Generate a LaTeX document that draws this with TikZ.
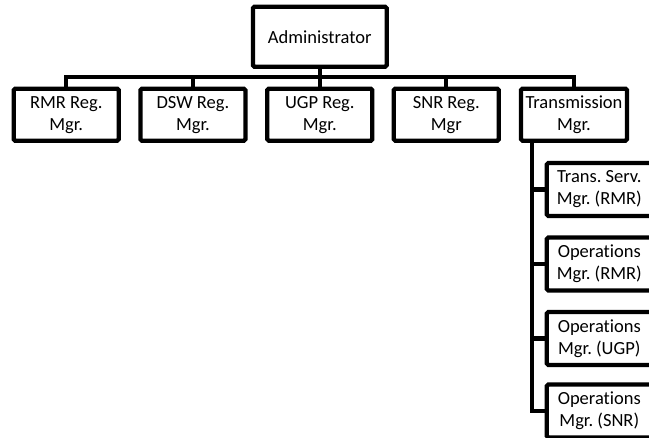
\documentclass[tikz,border=0pt]{standalone}
\usepackage{fontspec}
\setmainfont[Ligatures=CommonOff]{Carlito}
\begin{document}
\frenchspacing
\begin{tikzpicture}[x=1pt,y=-1pt,
  box/.style={draw=black, fill=white, line width=4.3pt, rounded corners=1.5pt,
    align=center, inner sep=0pt, font=\fontsize{18.5}{22}\selectfont\frenchspacing},
  rowbox/.style={box, minimum width=105pt, minimum height=52pt},
  subbox/.style={box, minimum width=105pt, minimum height=53pt},
  conn/.style={draw=black, line width=4.3pt, line join=miter}]
\useasboundingbox (0,0) rectangle (649,438);
\clip (0,0) rectangle (649,438);
\node[box, minimum width=133.7pt, minimum height=60pt] (adm) at (319.8,36.7) {Administrator};
\node[rowbox] (r1) at (66.2,114.7) {RMR Reg.\\Mgr.};
\node[rowbox] (r2) at (192.9,114.7) {DSW Reg.\\Mgr.};
\node[rowbox] (r3) at (319.8,114.7) {UGP Reg.\\Mgr.};
\node[rowbox] (r4) at (446.3,114.7) {SNR Reg.\\Mgr};
\node[rowbox, minimum width=106pt] (r5) at (574,114.7) {Transmission\\Mgr.};
\node[subbox] (s1) at (599.3,189.5) {Trans. Serv.\\Mgr. (RMR)};
\node[subbox] (s2) at (599.3,264) {Operations\\Mgr. (RMR)};
\node[subbox] (s3) at (599.3,338.5) {Operations\\Mgr. (UGP)};
\node[subbox] (s4) at (599.3,411) {Operations\\Mgr. (SNR)};
\coordinate (bus) at (0,77);
\coordinate (v) at (532,0);
\draw[conn] (adm.south) -- (adm.south |- bus);
\draw[conn] (r1.north) -- (r1.north |- bus) -- (r5.north |- bus) -- (r5.north);
\draw[conn] (r2.north |- bus) -- (r2.north);
\draw[conn] (r3.north |- bus) -- (r3.north);
\draw[conn] (r4.north |- bus) -- (r4.north);
\draw[conn] (v |- r5.south) |- (s4.west);
\draw[conn] (v |- s1.west) -- (s1.west);
\draw[conn] (v |- s2.west) -- (s2.west);
\draw[conn] (v |- s3.west) -- (s3.west);
\end{tikzpicture}
\end{document}
